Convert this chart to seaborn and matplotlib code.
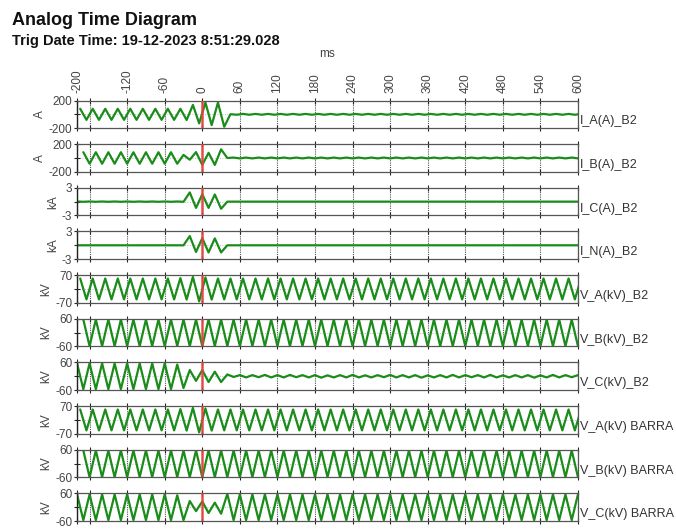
import numpy as np
import pandas as pd
import matplotlib
matplotlib.use("Agg")
import matplotlib.pyplot as plt
import seaborn as sns

sns.set_style("white")
plt.rcParams['font.family'] = ['Liberation Sans', 'DejaVu Sans']

# --- data: half-cycle extremes read from the record, one value every 10 ms ---
CHANNELS = ["I_A(A)_B2", "I_B(A)_B2", "I_C(A)_B2", "I_N(A)_B2",
            "V_A(kV)_B2", "V_B(kV)_B2", "V_C(kV)_B2",
            "V_A(kV) BARRA", "V_B(kV) BARRA", "V_C(kV) BARRA"]
UNITS = ["A", "A", "kA", "kA", "kV", "kV", "kV", "kV", "kV", "kV"]
LIMITS = [200, 200, 3, 3, 70, 60, 60, 70, 60, 60]
START_MS = [-195, -190, -200, -200, -195, -190, -200, -195, -190, -200]

IA = [80, -80, 80, -80, 80, -80, 80, -80, 80, -80,        # -195 .. -105
      80, -80, 80, -80, 80, -80, 80, -82, 136, -131,      # -95 .. -5
      170, -156, 170, -180, 2, -6, 6, -6, 6, -6,          # 5 .. 95
      6, -6, 6, -6, 6, -6, 6, -6, 6, -6,
      6, -6, 6, -6, 6, -6, 6, -6, 6, -6,
      6, -6, 6, -6, 6, -6, 6, -6, 6, -6,
      6, -6, 6, -6, 6, -6, 6, -6, 6, -6,
      6, -6, 6, -6, 6, -6, 6, -6, 6, -6,
      6]
IB = [83, -83, 83, -83, 83, -83, 83, -83, 83, -83,        # -190 .. -100
      83, -83, 83, -83, 83, -83, 45, -25, 85, -100,       # -90 .. 0
      75, -100, 125, 0, 6, -6, 6, -6, 6, -6,              # 10 .. 100
      6, -6, 6, -6, 6, -6, 6, -6, 6, -6,
      6, -6, 6, -6, 6, -6, 6, -6, 6, -6,
      6, -6, 6, -6, 6, -6, 6, -6, 6, -6,
      6, -6, 6, -6, 6, -6, 6, -6, 6, -6,
      6, -6, 6, -6, 6, -6, 6, -6, 6, -6,
      6]
IC = [0.03, -0.03, 0.03, -0.03, 0.03, -0.03, 0.03, -0.03, 0.03, -0.03,   # -200 .. -110
      0.03, -0.03, 0.03, -0.03, 0.03, -0.03, 0.03, -0.03, 2.0, -1.35,    # -100 .. -10
      1.6, -1.35, 1.55, -1.55, 0, 0, 0, 0, 0, 0,                         # 0 .. 90
      0, 0, 0, 0, 0, 0, 0, 0, 0, 0,
      0, 0, 0, 0, 0, 0, 0, 0, 0, 0,
      0, 0, 0, 0, 0, 0, 0, 0, 0, 0,
      0, 0, 0, 0, 0, 0, 0, 0, 0, 0,
      0, 0, 0, 0, 0, 0, 0, 0, 0, 0,
      0]
IN = [0, 0, 0, 0, 0, 0, 0, 0, 0, 0,                       # -200 .. -110
      0, 0, 0, 0, 0, 0, 0, 0, 2.0, -1.45,                 # -100 .. -10
      1.55, -1.55, 1.5, -1.55, 0, 0, 0, 0, 0, 0,          # 0 .. 90
      0, 0, 0, 0, 0, 0, 0, 0, 0, 0,
      0, 0, 0, 0, 0, 0, 0, 0, 0, 0,
      0, 0, 0, 0, 0, 0, 0, 0, 0, 0,
      0, 0, 0, 0, 0, 0, 0, 0, 0, 0,
      0, 0, 0, 0, 0, 0, 0, 0, 0, 0,
      0]
VA = [53, -53, 53, -53, 53, -53, 53, -53, 53, -53,        # -195 .. -105
      53, -53, 53, -53, 53, -53, 55, -54, 61, -63,        # -95 .. -5
      58, -54, 53, -53, 53, -53, 53, -53, 53, -53,        # 5 .. 95
      53, -53, 53, -53, 53, -53, 53, -53, 53, -53,
      53, -53, 53, -53, 53, -53, 53, -53, 53, -53,
      53, -53, 53, -53, 53, -53, 53, -53, 53, -53,
      53, -53, 53, -53, 53, -53, 53, -53, 53, -53,
      53, -53, 53, -53, 53, -53, 53, -53, 53, -53,
      53]
VB = [57, -59, 57, -59, 57, -59, 57, -59, 57, -59,        # -190 .. -100
      57, -59, 57, -59, 57, -59, 57, -59, 57, -59,
      57, -59, 57, -59, 57, -59, 57, -59, 57, -59,
      57, -59, 57, -59, 57, -59, 57, -59, 57, -59,
      57, -59, 57, -59, 57, -59, 57, -59, 57, -59,
      57, -59, 57, -59, 57, -59, 57, -59, 57, -59,
      57, -59, 57, -59, 57, -59, 57, -59, 57, -59,
      57, -59, 57, -59, 57, -59, 57, -59, 57, -59,
      57]
VC = [56, -56, 56, -56, 56, -56, 56, -56, 56, -56,        # -200 .. -110
      56, -56, 56, -56, 56, -56, 51, -51, 27, -20,        # -100 .. -10
      27, -25, 20, -25, 8, -3, 5, -5, 5, -4,              # 0 .. 90
      6, -5, 5, -5, 6, -4, 5, -5, 5, -6,
      4, -5, 5, -5, 6, -5, 4, -5, 5, -4,
      6, -5, 5, -5, 5, -6, 4, -5, 5, -5,
      6, -5, 5, -4, 5, -5, 6, -5, 4, -5,
      5, -5, 5, -6, 4, -5, 6, -5, 5, -4,
      5]
VA_BAR = [53, -53, 53, -53, 53, -53, 53, -53, 53, -53,    # -195 .. -105
          53, -53, 53, -53, 53, -53, 55, -54, 61, -63,    # -95 .. -5
          58, -54, 53, -53, 53, -53, 53, -53, 53, -53,    # 5 .. 95
          53, -53, 53, -53, 53, -53, 53, -53, 53, -53,
          53, -53, 53, -53, 53, -53, 53, -53, 53, -53,
          53, -53, 53, -53, 53, -53, 53, -53, 53, -53,
          53, -53, 53, -53, 53, -53, 53, -53, 53, -53,
          53, -53, 53, -53, 53, -53, 53, -53, 53, -53,
          53]
VB_BAR = [57, -59, 57, -59, 57, -59, 57, -59, 57, -59,    # -190 .. -100
          57, -59, 57, -59, 57, -59, 57, -59, 57, -59,
          57, -59, 57, -59, 57, -59, 57, -59, 57, -59,
          57, -59, 57, -59, 57, -59, 57, -59, 57, -59,
          57, -59, 57, -59, 57, -59, 57, -59, 57, -59,
          57, -59, 57, -59, 57, -59, 57, -59, 57, -59,
          57, -59, 57, -59, 57, -59, 57, -59, 57, -59,
          57, -59, 57, -59, 57, -59, 57, -59, 57, -59,
          57]
VC_BAR = [56, -56, 56, -56, 56, -56, 56, -56, 56, -56,    # -200 .. -110
          56, -56, 56, -56, 56, -56, 52, -56, 27, -17,    # -100 .. -10
          25, -25, 20, -28, 58, -56, 56, -56, 56, -56,    # 0 .. 90
          56, -56, 56, -56, 56, -56, 56, -56, 56, -56,
          56, -56, 56, -56, 56, -56, 56, -56, 56, -56,
          56, -56, 56, -56, 56, -56, 56, -56, 56, -56,
          56, -56, 56, -56, 56, -56, 56, -56, 56, -56,
          56, -56, 56, -56, 56, -56, 56, -56, 56, -56,
          56]
SERIES = [IA, IB, IC, IN, VA, VB, VC, VA_BAR, VB_BAR, VC_BAR]

X_TICKS = [-200, -180, -120, -60, 0, 60, 120, 180, 240, 300, 360, 420, 480, 540, 600]
X_TICK_LABELS = ["-200", "", "-120", "-60", "0", "60", "120", "180", "240", "300",
                 "360", "420", "480", "540", "600"]

WAVE = "#1a8c1a"
TRIG = "#e8413c"
TXT = "#333333"

fig, axes = plt.subplots(len(CHANNELS), 1, figsize=(6.76, 5.29), dpi=100, sharex=True)
fig.subplots_adjust(left=0.114, right=0.855, top=0.81, bottom=0.015, hspace=0.58)

for i, ax in enumerate(axes):
    vals = SERIES[i]
    t = START_MS[i] + 10 * np.arange(len(vals))
    df = pd.DataFrame({"ms": t, "v": vals})
    sns.lineplot(data=df, x="ms", y="v", ax=ax, color=WAVE, linewidth=1.6, sort=False)
    ax.axvline(0, color=TRIG, linewidth=1.8, alpha=0.9, zorder=3)

    lim = LIMITS[i]
    ax.set_xlim(-200, 600)
    ax.set_ylim(-lim, lim)
    ax.set_yticks([-lim, 0, lim])
    ax.set_yticklabels([str(-lim), "", str(lim)])
    ax.set_xticks(X_TICKS)
    ax.set_xticklabels(X_TICK_LABELS)
    ax.tick_params(axis="y", direction="inout", length=5, width=0.8, labelsize=8.5,
                   labelcolor="#444444", pad=1, left=True)
    ax.tick_params(axis="x", direction="inout", length=5, width=0.8, top=True, bottom=True,
                   labeltop=(i == 0), labelbottom=False, labelrotation=90, labelsize=8.5,
                   labelcolor="#444444", pad=3)
    ax.grid(axis="x", linestyle=(0, (1, 1)), color="#555555", linewidth=0.8)
    ax.axhline(0, linestyle=(0, (1, 2)), color="#aaaaaa", linewidth=0.6, zorder=0)

    ax.spines["left"].set_color("#222222")
    ax.spines["left"].set_linewidth(1.0)
    for side in ["top", "bottom", "right"]:
        ax.spines[side].set_linestyle((0, (1, 1)))
        ax.spines[side].set_color("#555555")
        ax.spines[side].set_linewidth(0.9)

    ax.set_xlabel("")
    ax.set_ylabel(UNITS[i], fontsize=8.5, color="#444444", labelpad=2)
    ax.text(1.004, 0.03, CHANNELS[i], transform=ax.transAxes, fontsize=9,
            color=TXT, ha="left", va="bottom")

fig.text(0.018, 0.952, "Analog Time Diagram", fontsize=13, fontweight="bold",
         color="#111111", ha="left", va="baseline")
fig.text(0.018, 0.915, "Trig Date Time: 19-12-2023 8:51:29.028", fontsize=10.5,
         fontweight="bold", color="#111111", ha="left", va="baseline")
fig.text(0.484, 0.897, "ms", fontsize=8.5, color="#444444", ha="center", va="center")

fig.savefig("out.png", dpi=100)
